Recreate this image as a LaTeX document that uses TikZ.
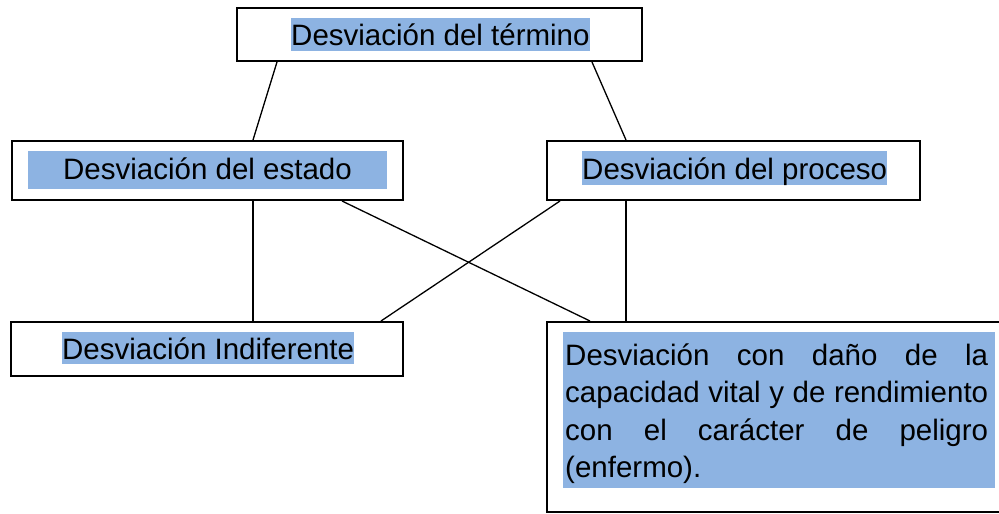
\documentclass[tikz,border=0pt]{standalone}
\usepackage{fontspec}
\setmainfont{Liberation Sans}
\definecolor{hl}{RGB}{141,179,226}
\newcommand{\bigfont}{\fontsize{29.5pt}{35pt}\selectfont}
\begin{document}
\begin{tikzpicture}[x=1pt,y=-1pt]
\tikzset{
  box/.style={draw=black, line width=2pt, fill=white, inner sep=0pt},
  conn/.style={draw=black, line width=1.3pt},
  hltext/.style={fill=hl, inner xsep=0pt, inner ysep=0pt, text height=28pt, text depth=5.5pt, anchor=base west, font=\bigfont},
  linetext/.style={inner sep=0pt, anchor=base west, font=\bigfont}
}
\useasboundingbox (0,0) rectangle (999,514);
\fill[white] (0,0) rectangle (999,514);
% boxes
\node[box, minimum width=405pt, minimum height=53pt] (b1) at (439.5,34.5) {};
\node[box, minimum width=391pt, minimum height=59pt] (b2) at (207.5,170.5) {};
\node[box, minimum width=373pt, minimum height=59pt] (b3) at (733.5,170.5) {};
\node[box, minimum width=392pt, minimum height=54pt] (b4) at (207,349) {};
\node[box, minimum width=456pt, minimum height=190pt] (b5) at (775,417) {};
% connectors
\draw[conn] ([xshift=41pt]b1.south west) -- ([xshift=242pt]b2.north west);
\draw[conn] ([xshift=356pt]b1.south west) -- ([xshift=80pt]b3.north west);
\draw[conn] ([xshift=242pt]b2.south west) -- ([xshift=243pt]b4.north west);
\draw[conn] ([xshift=331pt]b2.south west) -- ([xshift=44pt]b5.north west);
\draw[conn] ([xshift=14pt]b3.south west) -- ([xshift=371pt]b4.north west);
\draw[conn] ([xshift=80pt]b3.south west) -- ([xshift=80pt]b5.north west);
% texts
\node[hltext] (t1) at (291,45.7) {Desviación del término};
\node[hltext, anchor=base, minimum width=359pt, text depth=9.7pt] (t2) at (207.5,179.3) {Desviación del estado};
\node[hltext, text depth=5.7pt] (t3) at (582,179.3) {Desviación del proceso};
\node[hltext, text height=27pt, text depth=5pt] (t4) at (62,359) {Desviación Indiferente};
\node[fill=hl, inner sep=0pt, minimum width=432pt, minimum height=156pt, anchor=north west] (t5bg) at (563,332) {};
\node[linetext] (t5a) at (565,365) {\makebox[423pt][s]{Desviación con daño de la}};
\node[linetext] (t5b) at (565,402.5) {\makebox[423pt][s]{capacidad vital y de rendimiento}};
\node[linetext] (t5c) at (565,440) {\makebox[423pt][s]{con el carácter de peligro}};
\node[linetext] (t5d) at (565,477.5) {(enfermo).};
\end{tikzpicture}
\end{document}
